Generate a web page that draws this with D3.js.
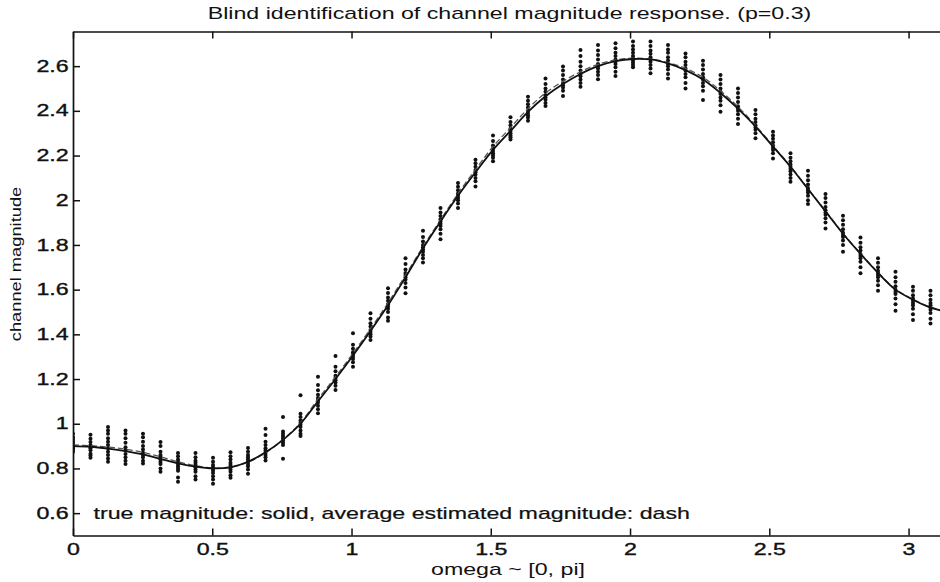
<!DOCTYPE html>
<html>
<head>
<meta charset="utf-8">
<script src="https://cdn.jsdelivr.net/npm/d3@7"></script>
<style>
  html, body { margin: 0; padding: 0; background: #fff; }
  svg { display: block; }
  text { font-family: "Liberation Sans", Arial, Helvetica, sans-serif; fill: #111; }
</style>
</head>
<body>
<svg id="chart" width="940" height="582"></svg>
<script>
// ---------------- data ----------------
const titleText = "Blind identification of channel magnitude response. (p=0.3)";
const xLabelText = "omega ~ [0, pi]";
const yLabelText = "channel magnitude";
const noteText = "true magnitude: solid, average estimated magnitude: dash";

const xTicks = [0, 0.5, 1, 1.5, 2, 2.5, 3];
const xTickLabels = ["0", "0.5", "1", "1.5", "2", "2.5", "3"];
const yTicks = [0.6, 0.8, 1, 1.2, 1.4, 1.6, 1.8, 2, 2.2, 2.4, 2.6];
const yTickLabels = ["0.6", "0.8", "1", "1.2", "1.4", "1.6", "1.8", "2", "2.2", "2.4", "2.6"];

// frequency grid (omega)
const omega = [0, 0.0628, 0.1257, 0.1885, 0.2513, 0.3142, 0.3770, 0.4398, 0.5027, 0.5655,
  0.6283, 0.6912, 0.7540, 0.8168, 0.8796, 0.9425, 1.0053, 1.0681, 1.1310, 1.1938,
  1.2566, 1.3195, 1.3823, 1.4451, 1.5080, 1.5708, 1.6336, 1.6965, 1.7593, 1.8221,
  1.8850, 1.9478, 2.0106, 2.0735, 2.1363, 2.1991, 2.2619, 2.3248, 2.3876, 2.4504,
  2.5133, 2.5761, 2.6389, 2.7018, 2.7646, 2.8274, 2.8903, 2.9531, 3.0159, 3.0788, 3.1416];

// true magnitude (solid)
const trueMag = [0.900, 0.897, 0.889, 0.878, 0.863, 0.843, 0.823, 0.808, 0.800, 0.805,
  0.830, 0.872, 0.928, 1.000, 1.100, 1.200, 1.305, 1.415, 1.530, 1.655,
  1.785, 1.905, 2.020, 2.125, 2.225, 2.310, 2.395, 2.465, 2.520, 2.565,
  2.600, 2.622, 2.632, 2.630, 2.612, 2.582, 2.540, 2.480, 2.410, 2.330,
  2.240, 2.150, 2.050, 1.950, 1.850, 1.760, 1.675, 1.600, 1.555, 1.520, 1.500];

// average estimated magnitude (dash)
const avgMag = [0.905, 0.902, 0.896, 0.886, 0.872, 0.852, 0.830, 0.812, 0.802, 0.806,
  0.828, 0.870, 0.930, 1.005, 1.110, 1.210, 1.315, 1.425, 1.540, 1.665,
  1.792, 1.912, 2.030, 2.137, 2.240, 2.325, 2.410, 2.480, 2.532, 2.575,
  2.608, 2.628, 2.636, 2.632, 2.616, 2.590, 2.550, 2.490, 2.418, 2.335,
  2.244, 2.152, 2.052, 1.952, 1.852, 1.762, 1.677, 1.602, 1.557, 1.522, 1.502];

// individual estimates, one list per frequency
const estimates = [
  [0.955, 0.94, 0.93, 0.92, 0.91, 0.90, 0.895, 0.89, 0.885, 0.875],
  [0.951, 0.933, 0.918, 0.905, 0.897, 0.89, 0.881, 0.866, 0.858, 0.848],
  [0.985, 0.97, 0.955, 0.935, 0.92, 0.905, 0.89, 0.875, 0.86, 0.845, 0.83],
  [0.97, 0.955, 0.935, 0.915, 0.895, 0.88, 0.865, 0.85, 0.835, 0.82],
  [0.955, 0.94, 0.92, 0.90, 0.885, 0.87, 0.86, 0.85, 0.835, 0.822],
  [0.918, 0.90, 0.875, 0.86, 0.85, 0.84, 0.83, 0.82, 0.80, 0.785],
  [0.869, 0.855, 0.84, 0.83, 0.82, 0.81, 0.80, 0.79, 0.76, 0.74],
  [0.869, 0.85, 0.835, 0.825, 0.815, 0.805, 0.795, 0.785, 0.765, 0.75],
  [0.848, 0.83, 0.815, 0.805, 0.80, 0.79, 0.78, 0.765, 0.75, 0.732],
  [0.873, 0.855, 0.84, 0.825, 0.815, 0.805, 0.795, 0.785, 0.77, 0.758],
  [0.891, 0.875, 0.86, 0.85, 0.84, 0.83, 0.82, 0.81, 0.795, 0.776],
  [0.978, 0.95, 0.92, 0.905, 0.89, 0.88, 0.87, 0.86, 0.85, 0.836],
  [1.03, 0.965, 0.955, 0.945, 0.935, 0.925, 0.915, 0.905, 0.843],
  [1.128, 1.045, 1.03, 1.015, 1.005, 0.995, 0.985, 0.97, 0.955, 0.945],
  [1.21, 1.173, 1.15, 1.13, 1.115, 1.105, 1.095, 1.08, 1.065, 1.047],
  [1.303, 1.255, 1.235, 1.215, 1.205, 1.195, 1.185, 1.17, 1.151],
  [1.405, 1.353, 1.335, 1.32, 1.31, 1.30, 1.29, 1.275, 1.255],
  [1.494, 1.47, 1.45, 1.435, 1.42, 1.41, 1.40, 1.39, 1.375],
  [1.606, 1.585, 1.565, 1.55, 1.535, 1.525, 1.515, 1.50, 1.475, 1.461],
  [1.741, 1.715, 1.69, 1.675, 1.665, 1.655, 1.645, 1.63, 1.61, 1.584],
  [1.863, 1.835, 1.815, 1.80, 1.79, 1.78, 1.77, 1.755, 1.74, 1.722],
  [1.965, 1.945, 1.93, 1.915, 1.905, 1.895, 1.885, 1.87, 1.85, 1.826],
  [2.077, 2.06, 2.045, 2.03, 2.02, 2.01, 2.0, 1.985, 1.965],
  [2.181, 2.165, 2.15, 2.135, 2.125, 2.115, 2.10, 2.085, 2.062],
  [2.29, 2.265, 2.245, 2.23, 2.22, 2.21, 2.20, 2.19, 2.175],
  [2.371, 2.35, 2.335, 2.32, 2.31, 2.30, 2.29, 2.282, 2.272],
  [2.463, 2.445, 2.43, 2.415, 2.40, 2.39, 2.38, 2.37, 2.356],
  [2.545, 2.52, 2.50, 2.485, 2.47, 2.46, 2.45, 2.435, 2.422],
  [2.598, 2.58, 2.56, 2.54, 2.525, 2.515, 2.505, 2.49, 2.466],
  [2.672, 2.645, 2.62, 2.60, 2.58, 2.565, 2.555, 2.54, 2.525, 2.508],
  [2.695, 2.67, 2.65, 2.63, 2.61, 2.60, 2.59, 2.575, 2.56, 2.541],
  [2.702, 2.68, 2.66, 2.645, 2.63, 2.62, 2.61, 2.595, 2.575, 2.556],
  [2.71, 2.69, 2.675, 2.66, 2.645, 2.635, 2.625, 2.615, 2.605, 2.595],
  [2.71, 2.69, 2.67, 2.655, 2.64, 2.63, 2.62, 2.605, 2.59, 2.568],
  [2.695, 2.675, 2.66, 2.64, 2.625, 2.61, 2.60, 2.585, 2.565, 2.545],
  [2.657, 2.64, 2.62, 2.605, 2.59, 2.58, 2.565, 2.55, 2.525, 2.50],
  [2.624, 2.605, 2.585, 2.565, 2.55, 2.54, 2.525, 2.51, 2.49, 2.448],
  [2.56, 2.54, 2.52, 2.50, 2.485, 2.475, 2.46, 2.445, 2.425, 2.396],
  [2.50, 2.48, 2.46, 2.44, 2.42, 2.41, 2.40, 2.385, 2.365, 2.341],
  [2.404, 2.385, 2.365, 2.35, 2.335, 2.325, 2.315, 2.30, 2.277],
  [2.307, 2.29, 2.275, 2.26, 2.245, 2.235, 2.225, 2.21, 2.187],
  [2.21, 2.19, 2.175, 2.16, 2.15, 2.14, 2.13, 2.115, 2.10, 2.083],
  [2.132, 2.11, 2.09, 2.07, 2.055, 2.045, 2.035, 2.02, 2.0, 1.983],
  [2.028, 2.01, 1.99, 1.97, 1.955, 1.945, 1.935, 1.92, 1.90, 1.874],
  [1.931, 1.91, 1.89, 1.87, 1.855, 1.845, 1.835, 1.82, 1.80, 1.77],
  [1.833, 1.81, 1.79, 1.775, 1.76, 1.75, 1.74, 1.725, 1.70, 1.673],
  [1.74, 1.72, 1.70, 1.685, 1.675, 1.665, 1.655, 1.64, 1.62, 1.595],
  [1.68, 1.655, 1.635, 1.615, 1.60, 1.59, 1.58, 1.56, 1.535, 1.506],
  [1.613, 1.595, 1.575, 1.56, 1.55, 1.54, 1.53, 1.515, 1.49, 1.464],
  [1.595, 1.575, 1.555, 1.54, 1.53, 1.52, 1.51, 1.495, 1.47, 1.449],
  [1.57, 1.55, 1.53, 1.515, 1.505, 1.495, 1.485, 1.47, 1.45, 1.43]
];

// ---------------- layout ----------------
const W = 940, H = 582;
const plot = { left: 73, right: 948, top: 31.5, bottom: 535.5 };
const SX = 1.45;          // horizontal stretch of the lettering in the reference
const FONT = 16;

const svg = d3.select("#chart");

const x = d3.scaleLinear().domain([0, 3.1416]).range([plot.left, plot.right]);
const y = d3.scaleLinear().domain([0.5, 2.755]).range([plot.bottom, plot.top]);

svg.append("rect").attr("width", W).attr("height", H).attr("fill", "#fff");

// ---------------- marks ----------------
const pts = [];
estimates.forEach((col, i) => col.forEach(v => pts.push({ w: omega[i], v })));

svg.append("clipPath").attr("id", "plotclip")
  .append("rect")
  .attr("x", plot.left).attr("y", plot.top)
  .attr("width", plot.right - plot.left).attr("height", plot.bottom - plot.top);

const gMarks = svg.append("g").attr("clip-path", "url(#plotclip)");

gMarks.selectAll("circle.est").data(pts).join("circle")
  .attr("class", "est")
  .attr("cx", d => x(d.w))
  .attr("cy", d => y(d.v))
  .attr("r", 2.0)
  .attr("fill", "#111");

const line = d3.line()
  .x((d, i) => x(omega[i]))
  .y(d => y(d))
  .curve(d3.curveCatmullRom.alpha(0.5));

gMarks.append("path")
  .datum(avgMag)
  .attr("d", line)
  .attr("fill", "none")
  .attr("stroke", "#555")
  .attr("stroke-width", 1.3)
  .attr("stroke-dasharray", "6,3");

gMarks.append("path")
  .datum(trueMag)
  .attr("d", line)
  .attr("fill", "none")
  .attr("stroke", "#111")
  .attr("stroke-width", 1.8);

// ---------------- axes ----------------
function styleAxis(g) {
  g.attr("font-family", null);
  g.selectAll(".domain").attr("stroke", "#111").attr("stroke-width", 1.7);
  g.selectAll(".tick line").attr("stroke", "#111").attr("stroke-width", 1.5);
  g.selectAll(".tick text")
    .attr("font-size", FONT)
    .attr("fill", "#111")
    .attr("stroke", "#111")
    .attr("stroke-width", 0.35)
    .style("font-family", '"Liberation Sans", Arial, Helvetica, sans-serif')
    .attr("transform", `scale(${SX},1)`);
}

const xAxisBottom = d3.axisBottom(x).tickValues(xTicks)
  .tickFormat((d, i) => xTickLabels[i]).tickSizeInner(-7).tickSizeOuter(0).tickPadding(8);
svg.append("g").attr("transform", `translate(0,${plot.bottom})`).call(xAxisBottom).call(styleAxis);

const xAxisTop = d3.axisTop(x).tickValues(xTicks)
  .tickFormat("").tickSizeInner(-7).tickSizeOuter(0);
svg.append("g").attr("transform", `translate(0,${plot.top})`).call(xAxisTop).call(styleAxis);

const yAxisLeft = d3.axisLeft(y).tickValues(yTicks)
  .tickFormat((d, i) => yTickLabels[i]).tickSizeInner(-7).tickSizeOuter(0).tickPadding(3);
svg.append("g").attr("transform", `translate(${plot.left},0)`).call(yAxisLeft).call(styleAxis);

const yAxisRight = d3.axisRight(y).tickValues(yTicks)
  .tickFormat("").tickSizeInner(-7).tickSizeOuter(0);
svg.append("g").attr("transform", `translate(${plot.right},0)`).call(yAxisRight).call(styleAxis);

// ---------------- texts ----------------
svg.append("text")
  .attr("transform", `translate(509.5,19) scale(${SX},1)`)
  .attr("text-anchor", "middle")
  .attr("font-size", FONT)
  .text(titleText);

svg.append("text")
  .attr("transform", `translate(508,575) scale(${SX},1)`)
  .attr("text-anchor", "middle")
  .attr("font-size", FONT)
  .text(xLabelText);

svg.append("text")
  .attr("transform", `translate(21,264) rotate(-90) scale(1.22,1)`)
  .attr("text-anchor", "middle")
  .attr("font-size", 15)
  .text(yLabelText);

svg.append("text")
  .attr("transform", `translate(93.5,519) scale(${SX},1)`)
  .attr("text-anchor", "start")
  .attr("font-size", FONT)
  .attr("stroke", "#111")
  .attr("stroke-width", 0.2)
  .text(noteText);
</script>
</body>
</html>
